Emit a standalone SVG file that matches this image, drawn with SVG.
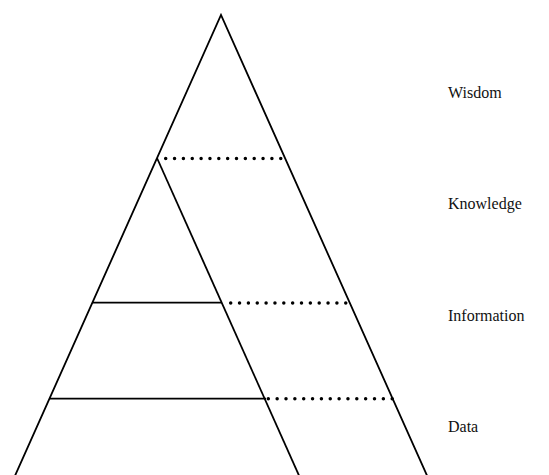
<svg xmlns="http://www.w3.org/2000/svg" width="549" height="475" viewBox="0 0 549 475">
<style>
.edge{stroke:#000;stroke-width:1.8;fill:none;stroke-linecap:butt}
.dot{stroke:#000;stroke-width:3.5;fill:none;stroke-linecap:round;stroke-dasharray:0 8.85}
.lbl{font-family:"Liberation Serif","Times New Roman",serif;font-size:16px;fill:#111}
</style>
<rect width="549" height="475" fill="#fff"/>
<g id="pyramid">
<path class="edge" d="M15.1,475.5 L221,15 L427,475.5"/>
<path class="edge" d="M157,158 L299,475.5"/>
<line class="edge" x1="92.5" y1="302.7" x2="222" y2="302.7"/>
<line class="edge" x1="49" y1="398.7" x2="266" y2="398.7"/>
</g>
<g id="connectors">
<line class="dot" x1="165.7" y1="158.5" x2="281.5" y2="158.5"/>
<line class="dot" x1="230.7" y1="303" x2="346.5" y2="303"/>
<line class="dot" x1="268.3" y1="398.7" x2="393" y2="398.7"/>
</g>
<g id="wisdom"><text class="lbl" x="448" y="98">Wisdom</text></g>
<g id="knowledge"><text class="lbl" x="448" y="209">Knowledge</text></g>
<g id="information"><text class="lbl" x="448" y="321">Information</text></g>
<g id="data"><text class="lbl" x="448" y="432">Data</text></g>
</svg>
